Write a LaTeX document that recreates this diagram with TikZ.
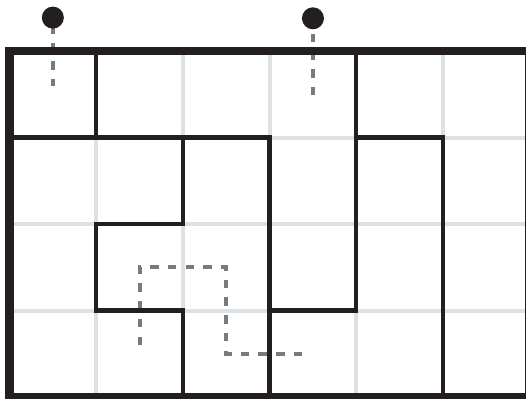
\documentclass[tikz,border=0pt]{standalone}
\usepackage{tikz}
\definecolor{wallblack}{HTML}{231F20}
\definecolor{gridgray}{HTML}{DDE0E4}
\definecolor{pathgray}{HTML}{747C80}
\tikzset{
  gridline/.style={draw=gridgray, line width=4pt},
  wall/.style={draw=wallblack, line width=4.3pt, line cap=rect, line join=miter},
  border/.style={draw=wallblack, line width=8.5pt, line join=miter},
  trail/.style={draw=pathgray, line width=4pt, dash pattern=on 8.5pt off 9.2pt, line join=miter},
  dot/.style={circle, fill=wallblack, inner sep=0pt, minimum size=22pt}
}
\begin{document}
\begin{tikzpicture}[x=1pt,y=-1pt]
\useasboundingbox (0,0) rectangle (526,398);
\begin{scope}[shift={(9.5,51)}, x=86.7pt, y=-86.5pt]
  % dashed trails (beneath everything)
  \coordinate (s1) at (0.5,-0.497);
  \coordinate (e1) at (0.5,0.405);
  \coordinate (s2) at (3.5,-0.405);
  \coordinate (e2) at (3.5,0.503);
  \coordinate (p0) at (1.5,3.399);
  \coordinate (p1) at (1.5,2.5);
  \coordinate (p2) at (2.5,2.5);
  \coordinate (p3) at (2.5,3.5);
  \coordinate (p4) at (3.408,3.5);
  \draw[trail] (s1) -- (e1);
  \draw[trail] (s2) -- (e2);
  \draw[trail] (p0) -- (p1) -- (p2) -- (p3) -- (p4);
  % light grid
  \foreach \c in {1,...,5} \draw[gridline] (\c,0) -- (\c,4);
  \foreach \r in {1,2,3} \draw[gridline] (0,\r) -- (6,\r);
  % walls
  \draw[wall] (1,0) -- (1,1);
  \draw[wall] (0,1) -- (3,1) -- (3,4);
  \draw[wall] (2,1) -- (2,2) -- (1,2) -- (1,3) -- (2,3) -- (2,4);
  \draw[wall] (3,3) -- (4,3) -- (4,0);
  \draw[wall] (4,1) -- (5,1) -- (5,4);
  % outer border
  \draw[border] (0,0) rectangle (6,4);
  % dots
  \node[dot] (d1) at (0.5,-0.386) {};
  \node[dot] (d2) at (3.5,-0.378) {};
\end{scope}
\end{tikzpicture}
\end{document}
